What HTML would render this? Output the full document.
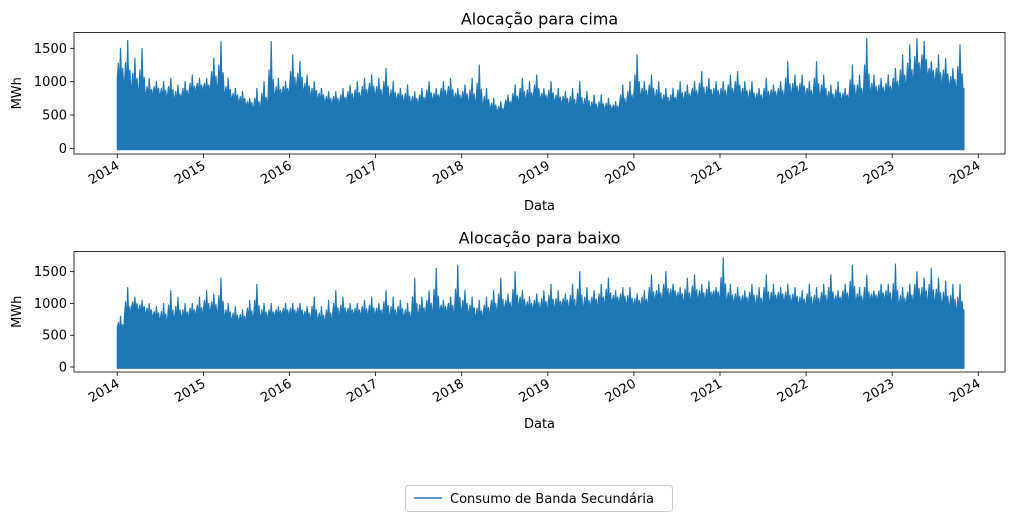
<!DOCTYPE html>
<html><head><meta charset="utf-8"><style>
body{margin:0;background:#fff;}
svg{font-family:"DejaVu Sans","Liberation Sans",sans-serif;}
</style></head><body>
<svg id="chart" width="1014" height="521" xmlns="http://www.w3.org/2000/svg"></svg>
<script>
const years = [2014,2015,2016,2017,2018,2019,2020,2021,2022,2023,2024];
const yTicks = [0,500,1000,1500];
const upBulk = [1050,950,900,850,800,850,800,800,750,800,850,900,
900,950,900,800,750,700,650,600,650,750,800,850,
900,950,850,800,750,700,700,700,750,750,800,850,
800,800,750,750,700,700,700,750,750,800,800,750,
750,700,700,650,600,550,650,700,750,750,800,750,
750,700,700,650,650,650,600,600,600,600,650,700,
800,800,800,750,700,700,750,750,800,800,800,800,
800,800,850,800,750,750,750,800,800,800,850,850,
800,800,800,750,750,750,800,800,850,850,850,850,
900,950,1000,1100,1200,1100,1000,1000,950,900];
const upPeak = [1500,1620,1350,1500,1050,1000,1000,1050,950,1000,1100,1050,
1050,1350,1600,1050,900,850,750,900,1000,1600,1050,1000,
1400,1300,1100,1000,900,850,850,900,950,1000,1050,1100,
1050,1200,1000,900,950,850,900,1000,900,1000,1050,900,
950,1050,1250,900,750,700,800,950,1050,1000,1100,900,
1000,900,850,900,1000,850,800,800,750,700,950,1000,
1400,1000,1100,1000,900,900,1000,950,1000,1150,1050,1000,
1000,1100,1150,1000,1000,900,1050,950,1000,1300,1100,1100,
1000,1300,1100,950,1000,900,1250,1100,1650,1100,1050,1100,
1200,1400,1550,1650,1600,1300,1400,1350,1200,1550];
const downBulk = [600,800,950,900,850,800,750,750,800,800,850,850,
900,900,850,800,750,750,800,800,800,800,850,850,
850,850,800,800,750,750,800,850,850,850,850,850,
850,850,800,850,800,800,850,900,900,900,900,850,
900,850,800,850,900,900,950,950,1000,950,950,950,
950,950,1000,950,950,950,1000,1000,1050,1050,1050,1000,
1000,1000,1050,1100,1100,1150,1100,1050,1100,1100,1100,1150,
1100,1050,1050,1050,1050,1000,1050,1050,1100,1050,1050,1000,
1000,1000,1050,1050,1050,1100,1100,1050,1050,1100,1100,1100,
1000,1000,1050,1100,1100,1050,1050,1000,950,900];
const downPeak = [800,1250,1100,1050,1000,950,1000,1200,1100,1000,1000,1100,
1200,1150,1400,1000,950,900,1050,1300,1000,1000,950,1000,
1000,1000,950,1100,950,1050,1200,1100,1000,1000,1050,1100,
1000,1200,1100,1050,1000,1400,1100,1200,1550,1050,1100,1600,
1200,1100,1050,1100,1200,1400,1150,1500,1200,1100,1150,1200,
1300,1200,1150,1300,1500,1250,1200,1300,1400,1200,1250,1250,
1150,1200,1450,1300,1500,1300,1250,1400,1450,1300,1350,1250,
1720,1300,1250,1200,1300,1250,1450,1300,1250,1300,1250,1200,
1300,1250,1300,1450,1200,1300,1600,1250,1450,1200,1300,1300,
1620,1250,1300,1500,1400,1550,1400,1350,1300,1300];

const svg = document.getElementById('chart');
const NS = 'http://www.w3.org/2000/svg';
function mk(tag, attrs, parent){const e=document.createElementNS(NS,tag);for(const k in attrs)e.setAttribute(k,attrs[k]);(parent||svg).appendChild(e);return e;}
const X0=74, X1=1005;
const xScale = t => 117.3 + (t-2014)*86.1;
const C='#1f77b4';

function panel(name, title, top, bottom, zeroY, pxPer1500, bulk, peak){
  const yScale = v => zeroY - v*(pxPer1500/1500);
  const g = mk('g',{});
  
  
  const t = mk('text',{x:(X0+X1)/2,y:top-8,'text-anchor':'middle','font-size':16,fill:'#000'},g);
  t.textContent = title;
  
  
  let d = 'M'+xScale(2014)+','+yScale(-20);
  const fr=[0,0.15,0.3,0.45,0.6,0.75,0.9];
  for(let i=0;i<bulk.length;i++){
    const a=xScale(2014+i/12), b=xScale(2014+(i+1)/12), w=b-a;
    const h=bulk[i], p=peak[i];
    const vals=[h, (h+p)/2, h*0.9, p, h*0.95, (h*2+p)/3, h*0.88];
    fr.forEach((f,k)=>{ d += ' L'+(a+w*f)+','+yScale(vals[k]); });
  }
  d += ' L'+xScale(2014+bulk.length/12)+','+yScale(bulk[bulk.length-1])+' L'+xScale(2014+bulk.length/12)+','+yScale(-20)+' Z';
  const area = mk('path',{d:d,fill:C,stroke:C,'stroke-width':1.2,'stroke-linejoin':'round'},g);
  
  
  const frm = mk('rect',{x:X0,y:top,width:X1-X0,height:bottom-top,fill:'none',stroke:'#000','stroke-width':0.8},g);
  
  
  yTicks.forEach(v=>{
    const y=yScale(v);
    mk('line',{x1:X0-4,x2:X0,y1:y,y2:y,stroke:'#000','stroke-width':0.8},g);
    const tl = mk('text',{x:X0-7,y:y+4.5,'text-anchor':'end','font-size':13,fill:'#000'},g);
    tl.textContent = v;
    
    
  });
  years.forEach(yr=>{
    const x=xScale(yr);
    mk('line',{x1:x,x2:x,y1:bottom,y2:bottom+4,stroke:'#000','stroke-width':0.8},g);
    const tl = mk('text',{x:x+3,y:bottom+14,'text-anchor':'end','font-size':13,fill:'#000',transform:'rotate(-30 '+(x+3)+' '+(bottom+14)+')'},g);
    tl.textContent = yr;
    
    
  });
  const yl = mk('text',{x:0,y:0,'text-anchor':'middle','font-size':13,fill:'#000',transform:'translate(21 '+((top+bottom)/2)+') rotate(-90)'},g);
  yl.textContent='MWh';
  
  
  const xl = mk('text',{x:(X0+X1)/2,y:bottom+56,'text-anchor':'middle','font-size':13,fill:'#000'},g);
  xl.textContent='Data';
  
  
}
panel('upward-panel','Alocação para cima',32.5,154,148.3,100,upBulk,upPeak);
panel('downward-panel','Alocação para baixo',251.5,372,367,95.3,downBulk,downPeak);

const lg = mk('g',{});


mk('rect',{x:405.5,y:485.5,width:267,height:26,rx:3,fill:'#fff',stroke:'#ccc'},lg);
mk('line',{x1:414,x2:442,y1:498,y2:498,stroke:C,'stroke-width':1.5},lg);
const lt = mk('text',{x:450,y:503,'font-size':13,fill:'#000'},lg);
lt.textContent='Consumo de Banda Secundária';


</script>
</body></html>
